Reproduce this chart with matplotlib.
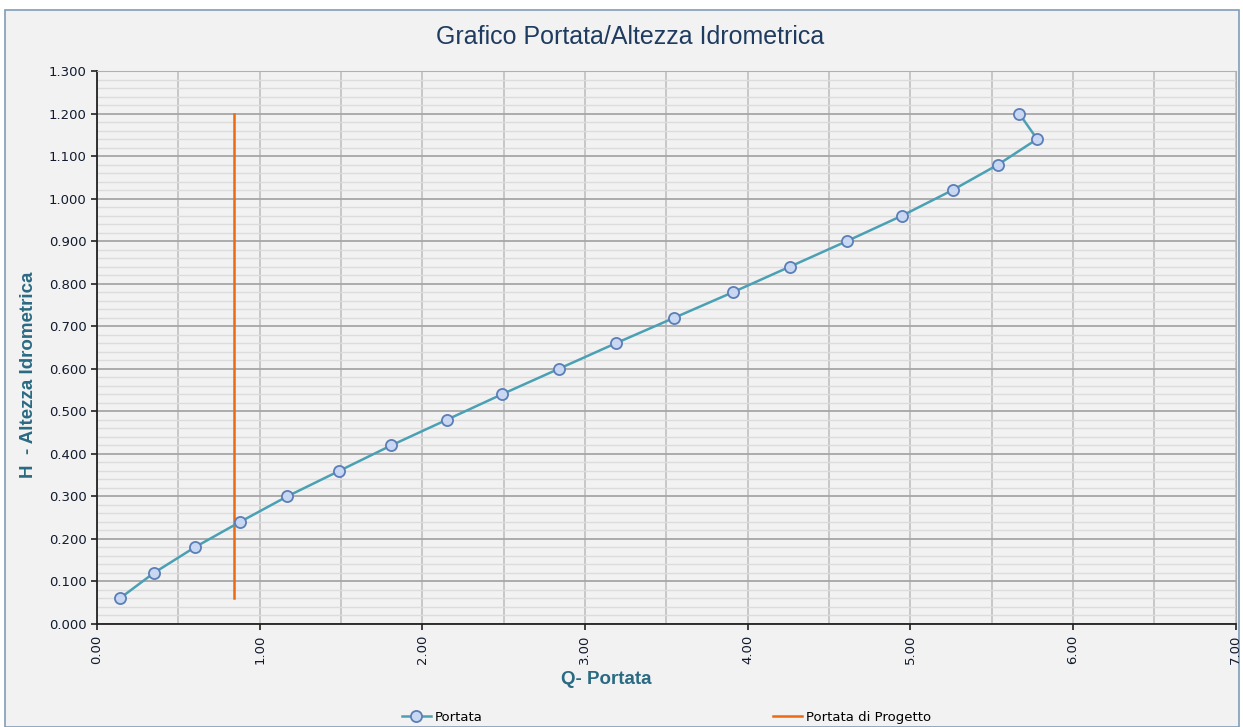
import numpy as np
import matplotlib.pyplot as plt
from matplotlib.patches import Rectangle
from matplotlib.ticker import MultipleLocator, FormatStrFormatter

# values
portata = [0.14, 0.35, 0.60, 0.88, 1.17, 1.49, 1.81, 2.15, 2.49, 2.84,
           3.19, 3.55, 3.91, 4.26, 4.61, 4.95, 5.26, 5.54, 5.78, 5.67]
altezza = [0.06, 0.12, 0.18, 0.24, 0.30, 0.36, 0.42, 0.48, 0.54, 0.60,
           0.66, 0.72, 0.78, 0.84, 0.90, 0.96, 1.02, 1.08, 1.14, 1.20]
q_progetto = [0.84, 0.84]
h_progetto = [0.06, 1.20]

fig = plt.figure(figsize=(12.43, 7.27), dpi=100, facecolor="white")
fig.patches.append(Rectangle((0.004, 0.0), 0.993, 0.986, transform=fig.transFigure,
                             facecolor="#F2F2F2", edgecolor="#7F9DB9", lw=1.2, zorder=-10))

ax = fig.add_axes([0.078, 0.1417, 0.916, 0.7606])
ax.set_facecolor("#F2F2F2")

ax.plot(portata, altezza, color="#4BA0B4", lw=1.8, marker="o", ms=8,
        mfc="#C8D8F2", mec="#5B7DB8", mew=1.3, label="Portata", zorder=3)
ax.plot(q_progetto, h_progetto, color="#EE6A10", lw=1.8, label="Portata di Progetto", zorder=2)

ax.set_xlim(0, 7)
ax.set_ylim(0, 1.3)
ax.xaxis.set_major_locator(MultipleLocator(1))
ax.xaxis.set_minor_locator(MultipleLocator(0.5))
ax.yaxis.set_major_locator(MultipleLocator(0.1))
ax.yaxis.set_minor_locator(MultipleLocator(0.02))
ax.xaxis.set_major_formatter(FormatStrFormatter("%.2f"))
ax.yaxis.set_major_formatter(FormatStrFormatter("%.3f"))

ax.grid(which="major", axis="y", color="#A6A6A6", lw=1.3)
ax.grid(which="minor", axis="y", color="#DCDCDC", lw=1.0)
ax.grid(which="both", axis="x", color="#C4C4C4", lw=1.3)
ax.set_axisbelow(True)

for s in ["top", "right"]:
    ax.spines[s].set_color("#B0B0B0")
for s in ["left", "bottom"]:
    ax.spines[s].set_color("#222222")
    ax.spines[s].set_linewidth(1.3)

ax.tick_params(which="major", length=4, width=1.2, colors="#222222", labelsize=9.5,
               labelcolor="#111a2e")
ax.tick_params(which="minor", length=0)
plt.setp(ax.get_xticklabels(), rotation=90)

fig.text(0.507, 0.949, "Grafico Portata/Altezza Idrometrica", ha="center", va="center",
         fontsize=18, color="#1F3B5F", family="Liberation Sans")
fig.text(0.488, 0.066, "Q- Portata", ha="center", va="center", fontsize=13.5,
         color="#2A6A82", family="Liberation Sans", fontweight="bold")
fig.text(0.023, 0.484, "H  - Altezza Idrometrica", ha="center", va="center",
         rotation=90, fontsize=13.5, color="#2A6A82", family="Liberation Sans",
         fontweight="bold")

ax.legend(loc="lower center", bbox_to_anchor=(0.5, -0.202), ncol=2, frameon=False,
          fontsize=9.5, columnspacing=22, handlelength=2.2, handletextpad=0.3,
          bbox_transform=ax.transAxes)

plt.savefig("out.png", dpi=100, facecolor=fig.get_facecolor())
